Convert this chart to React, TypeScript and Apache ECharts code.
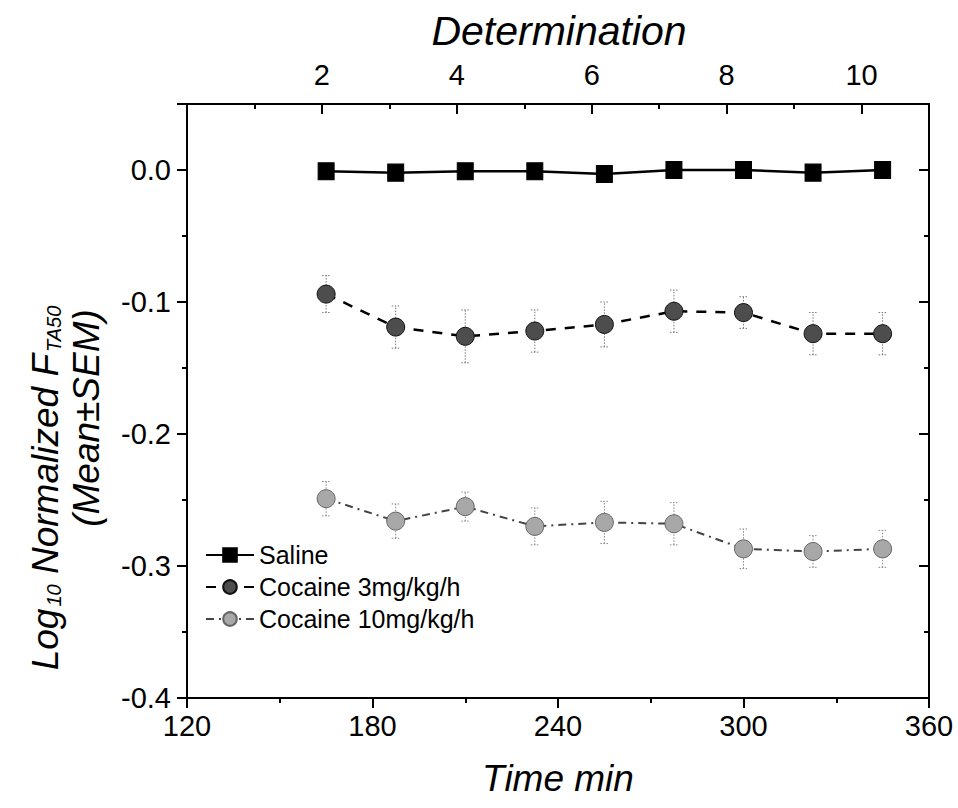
import React, { useEffect, useRef } from "react";
import * as echarts from "echarts";

const times = [165, 187.5, 210, 232.5, 255, 277.5, 300, 322.5, 345];
const saline = [-0.001, -0.002, -0.001, -0.001, -0.003, 0.0, 0.0, -0.002, 0.0];
const salineSem = [0.002, 0.002, 0.002, 0.002, 0.004, 0.002, 0.002, 0.002, 0.002];
const coc3 = [-0.094, -0.119, -0.126, -0.122, -0.117, -0.107, -0.108, -0.124, -0.124];
const coc3Sem = [0.014, 0.016, 0.02, 0.016, 0.017, 0.016, 0.012, 0.016, 0.016];
const coc10 = [-0.249, -0.266, -0.255, -0.27, -0.267, -0.268, -0.287, -0.289, -0.287];
const coc10Sem = [0.013, 0.013, 0.011, 0.014, 0.016, 0.016, 0.015, 0.012, 0.014];
const seriesNames = ["Saline", "Cocaine 3mg/kg/h", "Cocaine 10mg/kg/h"];
const xTitle = "Time min";
const topTitle = "Determination";

const FONT = "'Liberation Sans', Arial, sans-serif";

function errData(vals: number[], sem: number[]) {
  return times.map((t, i) => [t, vals[i] - sem[i], vals[i] + sem[i]]);
}

function errSeries(vals: number[], sem: number[], color: string) {
  return {
    type: "custom",
    silent: true,
    z: 1,
    data: errData(vals, sem),
    renderItem: (params: any, api: any) => {
      const x = api.value(0);
      const lo = api.coord([x, api.value(1)]);
      const hi = api.coord([x, api.value(2)]);
      const w = 4;
      const st = { stroke: color, lineWidth: 1, lineDash: [1.5, 1.5] };
      return {
        type: "group",
        children: [
          { type: "line", shape: { x1: lo[0], y1: lo[1], x2: hi[0], y2: hi[1] }, style: st },
          { type: "line", shape: { x1: hi[0] - w, y1: hi[1], x2: hi[0] + w, y2: hi[1] }, style: st },
          { type: "line", shape: { x1: lo[0] - w, y1: lo[1], x2: lo[0] + w, y2: lo[1] }, style: st },
        ],
      };
    },
  };
}

export default function App() {
  const ref = useRef<HTMLDivElement>(null);
  useEffect(() => {
    if (!ref.current) return;
    const chart = echarts.init(ref.current, null, { renderer: "svg" });
    const axisBase = {
      axisLine: { show: true, onZero: false, lineStyle: { color: "#000", width: 2 } },
      splitLine: { show: false },
    };
    const noLine = { show: false, onZero: false };
    const option: any = {
      animation: false,
      backgroundColor: "#fff",
      grid: { left: 187, right: 29, top: 104, bottom: 110, containLabel: false },
      xAxis: [
        {
          ...axisBase,
          type: "value",
          position: "bottom",
          min: 120,
          max: 360,
          interval: 60,
          axisTick: { show: true, inside: false, length: 10, lineStyle: { color: "#000", width: 2 } },
          minorTick: { show: true, splitNumber: 2, length: 5, lineStyle: { color: "#000", width: 2 } },
          axisLabel: { fontSize: 29, color: "#000", fontFamily: FONT, margin: 13 },
        },
        {
          ...axisBase,
          type: "value",
          position: "top",
          min: 0,
          max: 11,
          interval: 2,
          axisTick: { show: true, inside: true, length: 10, lineStyle: { color: "#000", width: 2 } },
          axisLabel: {
            fontSize: 29,
            color: "#000",
            fontFamily: FONT,
            margin: 15,
            formatter: (v: number) => (v > 0 && v <= 10 ? String(v) : ""),
          },
        },
        {
          type: "value",
          position: "top",
          min: 0,
          max: 11,
          interval: 1,
          axisLine: noLine,
          splitLine: { show: false },
          axisTick: { show: true, inside: true, length: 5, lineStyle: { color: "#000", width: 2 } },
          axisLabel: { show: false },
        },
      ],
      yAxis: [
        {
          ...axisBase,
          type: "value",
          position: "left",
          min: -0.4,
          max: 0.05,
          interval: 0.1,
          axisTick: { show: true, inside: false, length: 10, lineStyle: { color: "#000", width: 2 } },
          axisLabel: {
            fontSize: 29,
            color: "#000",
            fontFamily: FONT,
            margin: 16,
            formatter: (v: number) => (v > 0.001 ? "" : Math.abs(v) < 1e-9 ? "0.0" : v.toFixed(1)),
          },
        },
        {
          type: "value",
          position: "left",
          min: -0.4,
          max: 0.05,
          interval: 0.05,
          axisLine: noLine,
          splitLine: { show: false },
          axisTick: { show: true, inside: false, length: 5, lineStyle: { color: "#000", width: 2 } },
          axisLabel: { show: false },
        },
        {
          ...axisBase,
          type: "value",
          position: "right",
          min: -0.4,
          max: 0.05,
          interval: 0.1,
          axisTick: { show: true, inside: true, length: 10, lineStyle: { color: "#000", width: 2 } },
          axisLabel: { show: false },
        },
        {
          type: "value",
          position: "right",
          min: -0.4,
          max: 0.05,
          interval: 0.05,
          axisLine: noLine,
          splitLine: { show: false },
          axisTick: { show: true, inside: true, length: 5, lineStyle: { color: "#000", width: 2 } },
          axisLabel: { show: false },
        },
      ],
      legend: {
        show: true,
        orient: "vertical",
        left: 200,
        top: 537,
        itemWidth: 48,
        itemHeight: 17,
        itemGap: 6,
        textStyle: { fontSize: 25, color: "#000", fontFamily: FONT, lineHeight: 26 },
        data: seriesNames,
      },
      series: [
        errSeries(saline, salineSem, "#555"),
        errSeries(coc3, coc3Sem, "#777"),
        errSeries(coc10, coc10Sem, "#888"),
        {
          name: seriesNames[0],
          type: "line",
          z: 5,
          data: times.map((t, i) => [t, saline[i]]),
          symbol: "rect",
          symbolSize: [16, 17],
          lineStyle: { color: "#000", width: 2.5, type: "solid" },
          itemStyle: { color: "#000", borderColor: "#000", borderWidth: 1 },
        },
        {
          name: seriesNames[1],
          type: "line",
          z: 5,
          data: times.map((t, i) => [t, coc3[i]]),
          symbol: "circle",
          symbolSize: 18,
          lineStyle: { color: "#000", width: 2.5, type: [10, 9] },
          itemStyle: { color: "#4d4d4d", borderColor: "#111", borderWidth: 1 },
        },
        {
          name: seriesNames[2],
          type: "line",
          z: 5,
          data: times.map((t, i) => [t, coc10[i]]),
          symbol: "circle",
          symbolSize: 18,
          lineStyle: { color: "#444", width: 2, type: [8, 5, 2, 5] },
          itemStyle: { color: "#a8a8a8", borderColor: "#666", borderWidth: 1 },
        },
      ],
      graphic: [
        {
          type: "text",
          x: 559,
          y: 31,
          style: {
            text: topTitle,
            font: `italic 41px ${FONT}`,
            fill: "#000",
            textAlign: "center",
            textVerticalAlign: "middle",
          },
        },
        {
          type: "text",
          x: 558,
          y: 778,
          style: {
            text: xTitle,
            font: `italic 37px ${FONT}`,
            fill: "#000",
            textAlign: "center",
            textVerticalAlign: "middle",
          },
        },
        {
          type: "text",
          x: 44,
          y: 488,
          rotation: Math.PI / 2,
          style: {
            text: "{n|Log}{s|10}{n| Normalized F}{s|TA50}",
            textAlign: "center",
            textVerticalAlign: "middle",
            fill: "#000",
            rich: {
              n: { font: `italic 37px ${FONT}`, fill: "#000", lineHeight: 40, verticalAlign: "bottom" },
              s: {
                font: `italic 20px ${FONT}`,
                fill: "#000",
                lineHeight: 22,
                padding: [26, 0, 0, 2],
                verticalAlign: "bottom",
              },
            },
          },
        },
        {
          type: "text",
          x: 86,
          y: 418,
          rotation: Math.PI / 2,
          style: {
            text: "(Mean±SEM)",
            font: `italic 37px ${FONT}`,
            fill: "#000",
            textAlign: "center",
            textVerticalAlign: "middle",
          },
        },
      ],
    };
    chart.setOption(option);
    return () => chart.dispose();
  }, []);
  return (
    <div
      ref={ref}
      style={{ position: "absolute", left: 0, top: 0, width: 958, height: 808 }}
    />
  );
}
